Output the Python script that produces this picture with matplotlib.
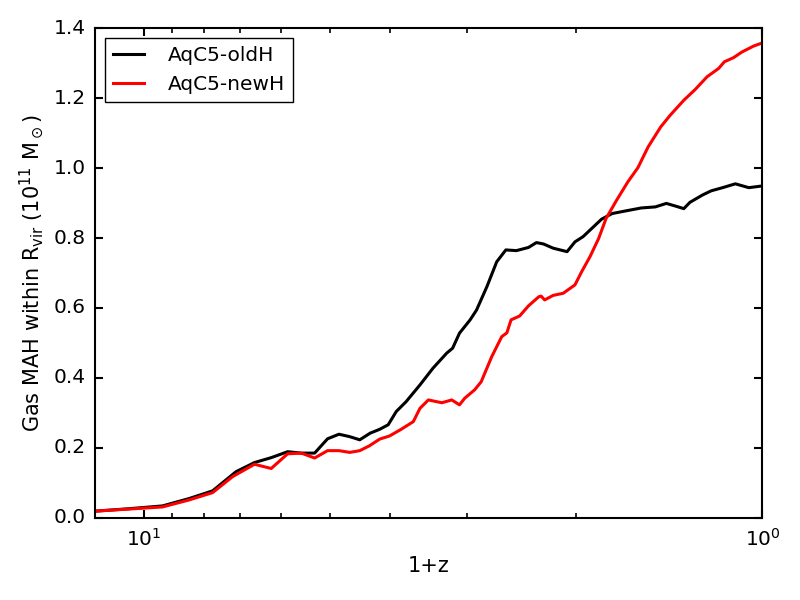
import numpy as np
import matplotlib
matplotlib.use('Agg')
import matplotlib.pyplot as plt

plt.style.use('classic')
plt.rcParams['mathtext.fontset'] = 'dejavusans'

# 1+z and gas mass (1e11 Msun)
oldH_z = [12.0, 10.58, 9.34, 8.46, 7.75, 7.10, 6.63, 6.23, 5.86, 5.57, 5.30,
          5.05, 4.84, 4.65, 4.48, 4.31, 4.16, 4.03, 3.91, 3.77, 3.58, 3.41,
          3.24, 3.17, 3.09, 2.97, 2.90, 2.79, 2.69, 2.60, 2.50, 2.39, 2.32,
          2.26, 2.18, 2.07, 2.01, 1.95, 1.82, 1.75, 1.67, 1.57, 1.49, 1.43,
          1.38, 1.34, 1.31, 1.25, 1.21, 1.16, 1.106, 1.052, 1.0]
oldH_m = [0.019, 0.026, 0.034, 0.055, 0.077, 0.132, 0.158, 0.172, 0.189, 0.185,
          0.185, 0.226, 0.239, 0.232, 0.223, 0.242, 0.253, 0.266, 0.304, 0.332,
          0.380, 0.428, 0.471, 0.485, 0.528, 0.566, 0.594, 0.661, 0.732, 0.766,
          0.764, 0.773, 0.787, 0.783, 0.771, 0.761, 0.789, 0.804, 0.854, 0.870,
          0.877, 0.886, 0.889, 0.899, 0.891, 0.884, 0.902, 0.923, 0.935, 0.944,
          0.955, 0.944, 0.949]

newH_z = [12.0, 9.34, 8.46, 7.75, 7.19, 6.63, 6.23, 5.86, 5.57, 5.30, 5.05,
          4.84, 4.65, 4.48, 4.32, 4.16, 4.01, 3.84, 3.67, 3.58, 3.47, 3.30,
          3.18, 3.09, 3.03, 2.92, 2.85, 2.74, 2.64, 2.59, 2.55, 2.47, 2.39,
          2.30, 2.28, 2.25, 2.18, 2.10, 2.01, 1.96, 1.90, 1.84, 1.79, 1.72,
          1.65, 1.59, 1.53, 1.46, 1.41, 1.34, 1.284, 1.229, 1.177, 1.152,
          1.113, 1.079, 1.033, 1.0]
newH_m = [0.019, 0.031, 0.051, 0.072, 0.118, 0.153, 0.141, 0.183, 0.185, 0.171,
          0.192, 0.192, 0.187, 0.192, 0.206, 0.225, 0.234, 0.253, 0.275, 0.313,
          0.337, 0.329, 0.337, 0.323, 0.342, 0.366, 0.389, 0.461, 0.518, 0.529,
          0.566, 0.577, 0.606, 0.632, 0.634, 0.623, 0.636, 0.642, 0.666, 0.704,
          0.747, 0.799, 0.856, 0.909, 0.961, 1.001, 1.061, 1.118, 1.151, 1.194,
          1.225, 1.261, 1.285, 1.304, 1.316, 1.332, 1.349, 1.358]

fig = plt.figure(figsize=(8, 6), dpi=100, facecolor='white')
ax = fig.add_axes([0.119, 0.137, 0.834, 0.816])

ax.plot(oldH_z, oldH_m, color='black', lw=2.2, label='AqC5-oldH')
ax.plot(newH_z, newH_m, color='red', lw=2.2, label='AqC5-newH')

ax.set_xscale('log')
ax.set_xlim(12, 1)
ax.set_ylim(0, 1.4)
ax.set_yticks(np.arange(0, 1.41, 0.2))

for s in ax.spines.values():
    s.set_linewidth(1.5)
ax.tick_params(which='major', length=6, width=1.5, labelsize=14.5, pad=7)
ax.tick_params(which='minor', length=3.5, width=1.2)

ax.set_xlabel('1+z', fontsize=15)
ax.set_ylabel(r'Gas MAH within R$_{\rm vir}$ (10$^{11}$ M$_\odot$)', fontsize=15)

leg = ax.legend(loc='upper left', fontsize=14.5, handlelength=1.5,
                handletextpad=1.2, borderaxespad=0.5, numpoints=1)
leg.get_frame().set_linewidth(1.0)

fig.savefig('out.png', dpi=100, facecolor='white')
